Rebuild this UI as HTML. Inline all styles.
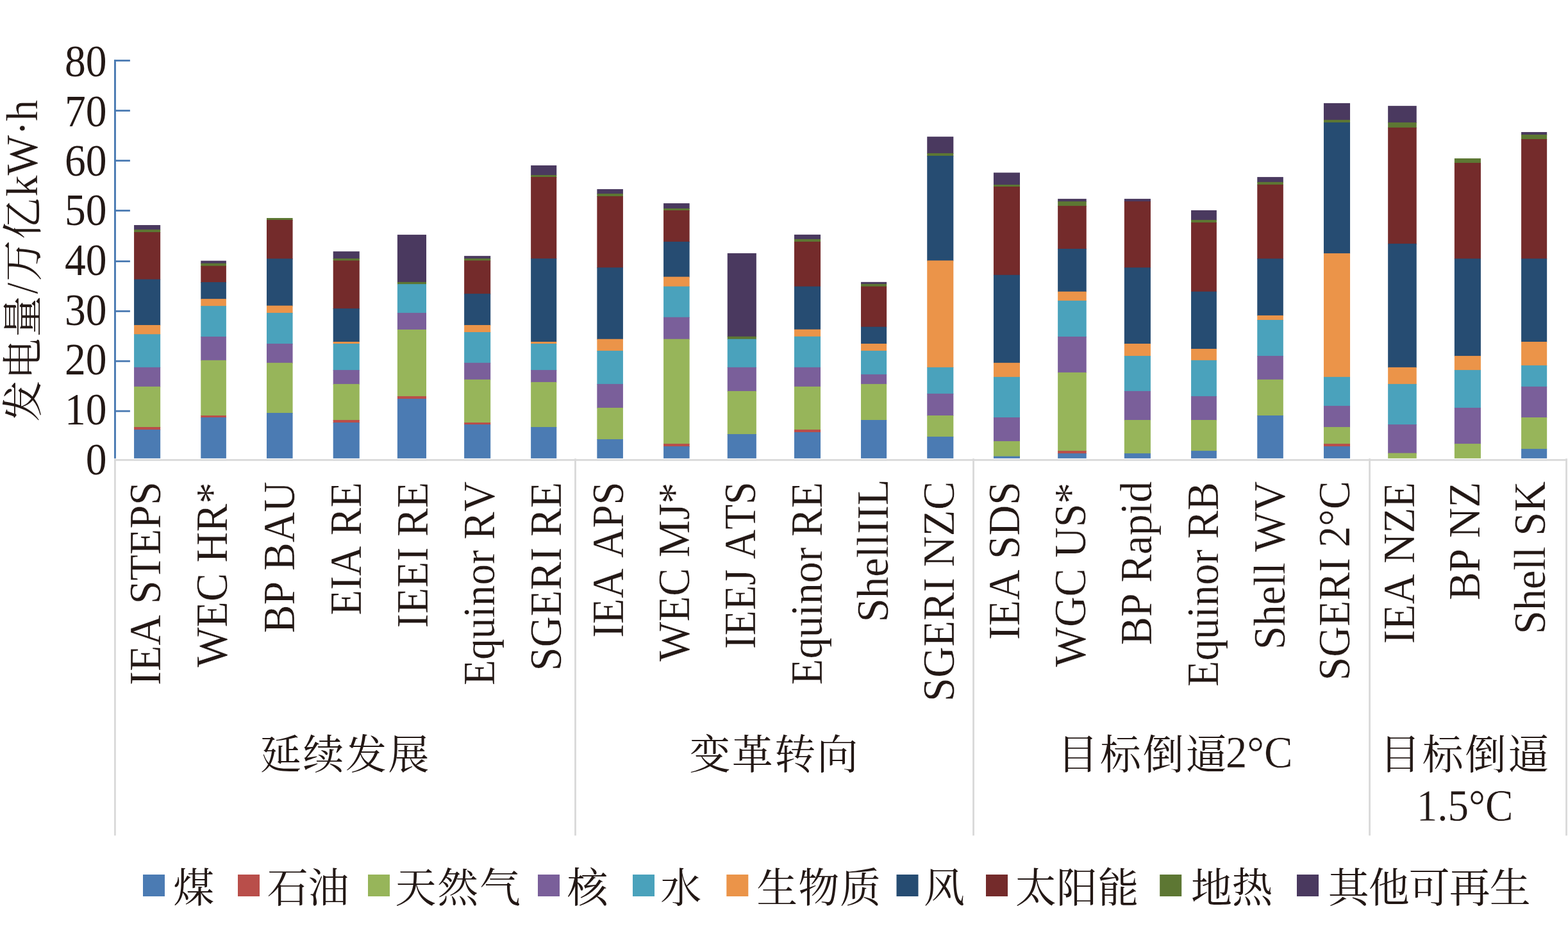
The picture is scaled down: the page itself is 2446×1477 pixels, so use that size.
<!DOCTYPE html>
<html><head><meta charset="utf-8"><title>chart</title><style>html,body{margin:0;padding:0;background:#fff;overflow:hidden}svg{display:block}</style></head><body>
<svg width="2446" height="1477" viewBox="0 0 2446 1477">
<rect width="2446" height="1477" fill="#fff"/>
<g fill="#d9d9d9">
<rect x="178" y="716.1" width="2266.9" height="2.7"/>
<rect x="178.0" y="715.2" width="2.8" height="588"/>
<rect x="896.1" y="715.2" width="2.8" height="588"/>
<rect x="1517.1" y="715.2" width="2.8" height="588"/>
<rect x="2135.2" y="715.2" width="2.8" height="588"/>
<rect x="2442.1" y="715.2" width="2.8" height="588"/>
</g>
<g fill="#4a7ab2">
<rect x="178" y="93.2" width="2.9" height="621.7"/>
<rect x="178" y="93.1" width="24.9" height="2.8"/>
<rect x="178" y="171.2" width="24.9" height="2.8"/>
<rect x="178" y="249.2" width="24.9" height="2.8"/>
<rect x="178" y="327.1" width="24.9" height="2.8"/>
<rect x="178" y="406.2" width="24.9" height="2.8"/>
<rect x="178" y="484.0" width="24.9" height="2.8"/>
<rect x="178" y="561.9" width="24.9" height="2.8"/>
<rect x="178" y="639.8" width="24.9" height="2.8"/>
</g>
<rect x="209.08" y="351.04" width="41.08" height="8.01" fill="#4a395f"/>
<rect x="209.08" y="358.06" width="41.08" height="5.01" fill="#5d7733"/>
<rect x="209.08" y="362.06" width="41.08" height="74.51" fill="#742b2b"/>
<rect x="209.08" y="435.57" width="41.08" height="72.39" fill="#264c72"/>
<rect x="209.08" y="506.96" width="41.08" height="15.28" fill="#eb9449"/>
<rect x="209.08" y="521.24" width="41.08" height="52.60" fill="#4aa2bc"/>
<rect x="209.08" y="572.85" width="41.08" height="31.06" fill="#7a5f9a"/>
<rect x="209.08" y="602.91" width="41.08" height="64.13" fill="#97b55a"/>
<rect x="209.08" y="666.03" width="41.08" height="5.01" fill="#b94e4a"/>
<rect x="209.08" y="670.04" width="41.08" height="44.86" fill="#4b7bb3"/>
<rect x="313.29" y="406.65" width="39.58" height="5.01" fill="#4a395f"/>
<rect x="313.29" y="410.66" width="39.58" height="5.01" fill="#5d7733"/>
<rect x="313.29" y="414.67" width="39.58" height="26.41" fill="#742b2b"/>
<rect x="313.29" y="440.08" width="39.58" height="27.05" fill="#264c72"/>
<rect x="313.29" y="466.13" width="39.58" height="12.02" fill="#eb9449"/>
<rect x="313.29" y="477.15" width="39.58" height="48.85" fill="#4aa2bc"/>
<rect x="313.29" y="525.00" width="39.58" height="37.82" fill="#7a5f9a"/>
<rect x="313.29" y="561.82" width="39.58" height="87.17" fill="#97b55a"/>
<rect x="313.29" y="648.00" width="39.58" height="4.01" fill="#b94e4a"/>
<rect x="313.29" y="651.00" width="39.58" height="63.90" fill="#4b7bb3"/>
<rect x="415.99" y="340.02" width="40.58" height="4.01" fill="#5d7733"/>
<rect x="415.99" y="343.03" width="40.58" height="61.37" fill="#742b2b"/>
<rect x="415.99" y="403.40" width="40.58" height="74.26" fill="#264c72"/>
<rect x="415.99" y="476.65" width="40.58" height="12.27" fill="#eb9449"/>
<rect x="415.99" y="487.93" width="40.58" height="49.10" fill="#4aa2bc"/>
<rect x="415.99" y="536.02" width="40.58" height="30.81" fill="#7a5f9a"/>
<rect x="415.99" y="565.83" width="40.58" height="79.16" fill="#97b55a"/>
<rect x="415.99" y="643.99" width="40.58" height="70.91" fill="#4b7bb3"/>
<rect x="519.70" y="392.12" width="41.08" height="12.02" fill="#4a395f"/>
<rect x="519.70" y="403.15" width="41.08" height="4.26" fill="#5d7733"/>
<rect x="519.70" y="406.40" width="41.08" height="75.76" fill="#742b2b"/>
<rect x="519.70" y="481.16" width="41.08" height="52.85" fill="#264c72"/>
<rect x="519.70" y="533.02" width="41.08" height="4.01" fill="#eb9449"/>
<rect x="519.70" y="536.02" width="41.08" height="42.08" fill="#4aa2bc"/>
<rect x="519.70" y="577.10" width="41.08" height="22.79" fill="#7a5f9a"/>
<rect x="519.70" y="598.90" width="41.08" height="57.11" fill="#97b55a"/>
<rect x="519.70" y="655.01" width="41.08" height="5.01" fill="#b94e4a"/>
<rect x="519.70" y="659.02" width="41.08" height="55.88" fill="#4b7bb3"/>
<rect x="619.90" y="366.07" width="45.09" height="74.76" fill="#4a395f"/>
<rect x="619.90" y="439.83" width="45.09" height="4.26" fill="#5d7733"/>
<rect x="619.90" y="443.09" width="45.09" height="45.84" fill="#4aa2bc"/>
<rect x="619.90" y="487.93" width="45.09" height="27.05" fill="#7a5f9a"/>
<rect x="619.90" y="513.98" width="45.09" height="104.96" fill="#97b55a"/>
<rect x="619.90" y="617.94" width="45.09" height="5.01" fill="#b94e4a"/>
<rect x="619.90" y="621.94" width="45.09" height="92.96" fill="#4b7bb3"/>
<rect x="724.11" y="399.14" width="41.08" height="5.01" fill="#4a395f"/>
<rect x="724.11" y="403.15" width="41.08" height="4.26" fill="#5d7733"/>
<rect x="724.11" y="406.40" width="41.08" height="52.71" fill="#742b2b"/>
<rect x="724.11" y="458.12" width="41.08" height="49.85" fill="#264c72"/>
<rect x="724.11" y="506.96" width="41.08" height="12.02" fill="#eb9449"/>
<rect x="724.11" y="517.99" width="41.08" height="48.85" fill="#4aa2bc"/>
<rect x="724.11" y="565.83" width="41.08" height="27.05" fill="#7a5f9a"/>
<rect x="724.11" y="591.88" width="41.08" height="68.13" fill="#97b55a"/>
<rect x="724.11" y="659.02" width="41.08" height="4.01" fill="#b94e4a"/>
<rect x="724.11" y="662.02" width="41.08" height="52.88" fill="#4b7bb3"/>
<rect x="828.14" y="257.95" width="40.08" height="16.03" fill="#4a395f"/>
<rect x="828.14" y="272.98" width="40.08" height="4.01" fill="#5d7733"/>
<rect x="828.14" y="275.98" width="40.08" height="128.25" fill="#742b2b"/>
<rect x="828.14" y="403.24" width="40.08" height="130.78" fill="#264c72"/>
<rect x="828.14" y="533.02" width="40.08" height="4.01" fill="#eb9449"/>
<rect x="828.14" y="536.02" width="40.08" height="42.08" fill="#4aa2bc"/>
<rect x="828.14" y="577.10" width="40.08" height="19.79" fill="#7a5f9a"/>
<rect x="828.14" y="595.89" width="40.08" height="71.14" fill="#97b55a"/>
<rect x="828.14" y="666.03" width="40.08" height="48.87" fill="#4b7bb3"/>
<rect x="931.34" y="295.02" width="40.58" height="8.01" fill="#4a395f"/>
<rect x="931.34" y="302.03" width="40.58" height="5.01" fill="#5d7733"/>
<rect x="931.34" y="306.04" width="40.58" height="112.22" fill="#742b2b"/>
<rect x="931.34" y="417.26" width="40.58" height="112.49" fill="#264c72"/>
<rect x="931.34" y="528.76" width="40.58" height="19.29" fill="#eb9449"/>
<rect x="931.34" y="547.04" width="40.58" height="52.85" fill="#4aa2bc"/>
<rect x="931.34" y="598.90" width="40.58" height="38.07" fill="#7a5f9a"/>
<rect x="931.34" y="635.97" width="40.58" height="50.10" fill="#97b55a"/>
<rect x="931.34" y="685.07" width="40.58" height="29.83" fill="#4b7bb3"/>
<rect x="1035.05" y="317.06" width="40.58" height="9.02" fill="#4a395f"/>
<rect x="1035.05" y="325.08" width="40.58" height="4.01" fill="#5d7733"/>
<rect x="1035.05" y="328.09" width="40.58" height="49.85" fill="#742b2b"/>
<rect x="1035.05" y="376.93" width="40.58" height="55.73" fill="#264c72"/>
<rect x="1035.05" y="431.66" width="40.58" height="16.03" fill="#eb9449"/>
<rect x="1035.05" y="446.69" width="40.58" height="49.00" fill="#4aa2bc"/>
<rect x="1035.05" y="494.69" width="40.58" height="35.07" fill="#7a5f9a"/>
<rect x="1035.05" y="528.76" width="40.58" height="164.33" fill="#97b55a"/>
<rect x="1035.05" y="692.08" width="40.58" height="5.01" fill="#b94e4a"/>
<rect x="1035.05" y="696.09" width="40.58" height="18.81" fill="#4b7bb3"/>
<rect x="1134.75" y="394.97" width="45.09" height="130.78" fill="#4a395f"/>
<rect x="1134.75" y="524.75" width="45.09" height="5.01" fill="#5d7733"/>
<rect x="1134.75" y="528.76" width="45.09" height="45.09" fill="#4aa2bc"/>
<rect x="1134.75" y="572.85" width="45.09" height="38.07" fill="#7a5f9a"/>
<rect x="1134.75" y="609.92" width="45.09" height="68.13" fill="#97b55a"/>
<rect x="1134.75" y="677.05" width="45.09" height="37.85" fill="#4b7bb3"/>
<rect x="1238.96" y="365.91" width="41.08" height="8.01" fill="#4a395f"/>
<rect x="1238.96" y="372.93" width="41.08" height="5.01" fill="#5d7733"/>
<rect x="1238.96" y="376.93" width="41.08" height="70.76" fill="#742b2b"/>
<rect x="1238.96" y="446.69" width="41.08" height="68.03" fill="#264c72"/>
<rect x="1238.96" y="513.73" width="41.08" height="12.02" fill="#eb9449"/>
<rect x="1238.96" y="524.75" width="41.08" height="49.10" fill="#4aa2bc"/>
<rect x="1238.96" y="572.85" width="41.08" height="31.06" fill="#7a5f9a"/>
<rect x="1238.96" y="602.91" width="41.08" height="68.13" fill="#97b55a"/>
<rect x="1238.96" y="670.04" width="41.08" height="5.01" fill="#b94e4a"/>
<rect x="1238.96" y="674.05" width="41.08" height="40.85" fill="#4b7bb3"/>
<rect x="1343.03" y="439.83" width="40.08" height="4.01" fill="#4a395f"/>
<rect x="1343.03" y="442.84" width="40.08" height="4.86" fill="#5d7733"/>
<rect x="1343.03" y="446.69" width="40.08" height="64.03" fill="#742b2b"/>
<rect x="1343.03" y="509.72" width="40.08" height="27.30" fill="#264c72"/>
<rect x="1343.03" y="536.02" width="40.08" height="12.02" fill="#eb9449"/>
<rect x="1343.03" y="547.04" width="40.08" height="37.82" fill="#4aa2bc"/>
<rect x="1343.03" y="583.87" width="40.08" height="16.03" fill="#7a5f9a"/>
<rect x="1343.03" y="598.90" width="40.08" height="57.11" fill="#97b55a"/>
<rect x="1343.03" y="655.01" width="40.08" height="59.89" fill="#4b7bb3"/>
<rect x="1446.23" y="213.15" width="41.08" height="26.80" fill="#4a395f"/>
<rect x="1446.23" y="238.95" width="41.08" height="5.01" fill="#5d7733"/>
<rect x="1446.23" y="242.96" width="41.08" height="164.33" fill="#264c72"/>
<rect x="1446.23" y="406.28" width="41.08" height="167.56" fill="#eb9449"/>
<rect x="1446.23" y="572.85" width="41.08" height="42.08" fill="#4aa2bc"/>
<rect x="1446.23" y="613.93" width="41.08" height="35.07" fill="#7a5f9a"/>
<rect x="1446.23" y="648.00" width="41.08" height="34.07" fill="#97b55a"/>
<rect x="1446.23" y="681.06" width="41.08" height="33.84" fill="#4b7bb3"/>
<rect x="1549.94" y="269.26" width="41.08" height="19.79" fill="#4a395f"/>
<rect x="1549.94" y="288.05" width="41.08" height="4.01" fill="#5d7733"/>
<rect x="1549.94" y="291.05" width="41.08" height="138.76" fill="#742b2b"/>
<rect x="1549.94" y="428.81" width="41.08" height="138.02" fill="#264c72"/>
<rect x="1549.94" y="565.83" width="41.08" height="23.04" fill="#eb9449"/>
<rect x="1549.94" y="587.88" width="41.08" height="64.13" fill="#4aa2bc"/>
<rect x="1549.94" y="651.00" width="41.08" height="38.07" fill="#7a5f9a"/>
<rect x="1549.94" y="688.08" width="41.08" height="24.55" fill="#97b55a"/>
<rect x="1549.94" y="711.62" width="41.08" height="3.28" fill="#4b7bb3"/>
<rect x="1650.14" y="310.09" width="44.59" height="5.01" fill="#4a395f"/>
<rect x="1650.14" y="314.10" width="44.59" height="8.01" fill="#5d7733"/>
<rect x="1650.14" y="321.11" width="44.59" height="67.88" fill="#742b2b"/>
<rect x="1650.14" y="388.00" width="44.59" height="67.71" fill="#264c72"/>
<rect x="1650.14" y="454.71" width="44.59" height="15.18" fill="#eb9449"/>
<rect x="1650.14" y="468.89" width="44.59" height="57.11" fill="#4aa2bc"/>
<rect x="1650.14" y="525.00" width="44.59" height="56.86" fill="#7a5f9a"/>
<rect x="1650.14" y="580.86" width="44.59" height="123.24" fill="#97b55a"/>
<rect x="1650.14" y="703.11" width="44.59" height="5.01" fill="#b94e4a"/>
<rect x="1650.14" y="707.11" width="44.59" height="7.79" fill="#4b7bb3"/>
<rect x="1753.85" y="310.09" width="41.08" height="5.01" fill="#4a395f"/>
<rect x="1753.85" y="314.10" width="41.08" height="104.21" fill="#742b2b"/>
<rect x="1753.85" y="417.30" width="41.08" height="119.72" fill="#264c72"/>
<rect x="1753.85" y="536.02" width="41.08" height="20.04" fill="#eb9449"/>
<rect x="1753.85" y="555.06" width="41.08" height="55.86" fill="#4aa2bc"/>
<rect x="1753.85" y="609.92" width="41.08" height="46.09" fill="#7a5f9a"/>
<rect x="1753.85" y="655.01" width="41.08" height="53.10" fill="#97b55a"/>
<rect x="1753.85" y="707.11" width="41.08" height="7.79" fill="#4b7bb3"/>
<rect x="1858.05" y="327.96" width="39.83" height="16.03" fill="#4a395f"/>
<rect x="1858.05" y="342.99" width="39.83" height="5.01" fill="#5d7733"/>
<rect x="1858.05" y="346.99" width="39.83" height="108.72" fill="#742b2b"/>
<rect x="1858.05" y="454.71" width="39.83" height="90.33" fill="#264c72"/>
<rect x="1858.05" y="544.04" width="39.83" height="18.79" fill="#eb9449"/>
<rect x="1858.05" y="561.82" width="39.83" height="57.11" fill="#4aa2bc"/>
<rect x="1858.05" y="617.94" width="39.83" height="38.07" fill="#7a5f9a"/>
<rect x="1858.05" y="655.01" width="39.83" height="49.10" fill="#97b55a"/>
<rect x="1858.05" y="703.11" width="39.83" height="11.79" fill="#4b7bb3"/>
<rect x="1961.25" y="276.10" width="40.58" height="8.77" fill="#4a395f"/>
<rect x="1961.25" y="283.87" width="40.58" height="5.01" fill="#5d7733"/>
<rect x="1961.25" y="287.88" width="40.58" height="116.48" fill="#742b2b"/>
<rect x="1961.25" y="403.36" width="40.58" height="89.58" fill="#264c72"/>
<rect x="1961.25" y="491.93" width="40.58" height="8.01" fill="#eb9449"/>
<rect x="1961.25" y="498.95" width="40.58" height="57.11" fill="#4aa2bc"/>
<rect x="1961.25" y="555.06" width="40.58" height="37.82" fill="#7a5f9a"/>
<rect x="1961.25" y="591.88" width="40.58" height="57.11" fill="#97b55a"/>
<rect x="1961.25" y="648.00" width="40.58" height="66.90" fill="#4b7bb3"/>
<rect x="2064.96" y="160.87" width="41.08" height="27.05" fill="#4a395f"/>
<rect x="2064.96" y="186.92" width="41.08" height="5.01" fill="#5d7733"/>
<rect x="2064.96" y="190.93" width="41.08" height="205.16" fill="#264c72"/>
<rect x="2064.96" y="395.09" width="41.08" height="193.79" fill="#eb9449"/>
<rect x="2064.96" y="587.88" width="41.08" height="46.09" fill="#4aa2bc"/>
<rect x="2064.96" y="632.97" width="41.08" height="34.07" fill="#7a5f9a"/>
<rect x="2064.96" y="666.03" width="41.08" height="27.05" fill="#97b55a"/>
<rect x="2064.96" y="692.08" width="41.08" height="5.01" fill="#b94e4a"/>
<rect x="2064.96" y="696.09" width="41.08" height="18.81" fill="#4b7bb3"/>
<rect x="2165.16" y="165.13" width="44.59" height="26.80" fill="#4a395f"/>
<rect x="2165.16" y="190.93" width="44.59" height="9.02" fill="#5d7733"/>
<rect x="2165.16" y="198.95" width="44.59" height="182.11" fill="#742b2b"/>
<rect x="2165.16" y="380.06" width="44.59" height="193.79" fill="#264c72"/>
<rect x="2165.16" y="572.85" width="44.59" height="27.05" fill="#eb9449"/>
<rect x="2165.16" y="598.90" width="44.59" height="64.13" fill="#4aa2bc"/>
<rect x="2165.16" y="662.02" width="44.59" height="45.59" fill="#7a5f9a"/>
<rect x="2165.16" y="706.61" width="44.59" height="8.29" fill="#97b55a"/>
<rect x="2268.87" y="247.04" width="41.08" height="8.01" fill="#5d7733"/>
<rect x="2268.87" y="254.06" width="41.08" height="150.30" fill="#742b2b"/>
<rect x="2268.87" y="403.36" width="41.08" height="152.70" fill="#264c72"/>
<rect x="2268.87" y="555.06" width="41.08" height="23.04" fill="#eb9449"/>
<rect x="2268.87" y="577.10" width="41.08" height="59.87" fill="#4aa2bc"/>
<rect x="2268.87" y="635.97" width="41.08" height="57.11" fill="#7a5f9a"/>
<rect x="2268.87" y="692.08" width="41.08" height="22.82" fill="#97b55a"/>
<rect x="2373.08" y="205.96" width="40.08" height="5.01" fill="#4a395f"/>
<rect x="2373.08" y="209.97" width="40.08" height="8.01" fill="#5d7733"/>
<rect x="2373.08" y="216.98" width="40.08" height="187.37" fill="#742b2b"/>
<rect x="2373.08" y="403.36" width="40.08" height="130.66" fill="#264c72"/>
<rect x="2373.08" y="533.02" width="40.08" height="37.82" fill="#eb9449"/>
<rect x="2373.08" y="569.84" width="40.08" height="34.07" fill="#4aa2bc"/>
<rect x="2373.08" y="602.91" width="40.08" height="49.10" fill="#7a5f9a"/>
<rect x="2373.08" y="651.00" width="40.08" height="50.10" fill="#97b55a"/>
<rect x="2373.08" y="700.10" width="40.08" height="14.80" fill="#4b7bb3"/>
<g font-family="Liberation Serif, serif" fill="#231815" font-size="69.3" stroke="#fff" stroke-width="0.3" style="font-kerning:none">
<text transform="translate(250,1069.1) rotate(-90) scale(0.9546,1)">IEA STEPS</text>
<text transform="translate(353.5,1040.8) rotate(-90) scale(0.9542,1)">WEC HR*</text>
<text transform="translate(458.7,987.6) rotate(-90) scale(0.9527,1)">BP BAU</text>
<text transform="translate(563,959.8) rotate(-90) scale(0.9385,1)">EIA RE</text>
<text transform="translate(666.9,979.5) rotate(-90) scale(0.9620,1)">IEEI RE</text>
<text transform="translate(770.7,1069.0) rotate(-90) scale(0.9451,1)">Equinor RV</text>
<text transform="translate(874.9,1046.6) rotate(-90) scale(0.9635,1)">SGERI RE</text>
<text transform="translate(972.1,994.5) rotate(-90) scale(0.9357,1)">IEA APS</text>
<text transform="translate(1075,1031.8) rotate(-90) scale(0.9483,1)">WEC MJ*</text>
<text transform="translate(1178,1012.2) rotate(-90) scale(0.9227,1)">IEEJ ATS</text>
<text transform="translate(1281.8,1068.2) rotate(-90) scale(0.9610,1)">Equinor RE</text>
<text transform="translate(1385.4,970.6) rotate(-90) scale(0.9676,1)">ShellIIL</text>
<text transform="translate(1488.3,1094.3) rotate(-90) scale(0.9650,1)">SGERI NZC</text>
<text transform="translate(1589.6,998.1) rotate(-90) scale(0.9499,1)">IEA SDS</text>
<text transform="translate(1692.9,1040.3) rotate(-90) scale(0.9518,1)">WGC US*</text>
<text transform="translate(1795.9,1006.3) rotate(-90) scale(0.9553,1)">BP Rapid</text>
<text transform="translate(1900,1071.0) rotate(-90) scale(0.9583,1)">Equinor RB</text>
<text transform="translate(2004,1013.2) rotate(-90) scale(0.9543,1)">Shell WV</text>
<text transform="translate(2105.2,1061.5) rotate(-90) scale(0.9552,1)">SGERI 2°C</text>
<text transform="translate(2206,1004.3) rotate(-90) scale(0.9434,1)">IEA NZE</text>
<text transform="translate(2308.4,936.3) rotate(-90) scale(0.9502,1)">BP NZ</text>
<text transform="translate(2409.8,989.3) rotate(-90) scale(0.9608,1)">Shell SK</text>
<text transform="translate(166.6,119.1) scale(0.93,1)" text-anchor="end" font-size="70.5" stroke="none">80</text>
<text transform="translate(166.6,196.5) scale(0.93,1)" text-anchor="end" font-size="70.5" stroke="none">70</text>
<text transform="translate(166.6,274) scale(0.93,1)" text-anchor="end" font-size="70.5" stroke="none">60</text>
<text transform="translate(166.6,351.4) scale(0.93,1)" text-anchor="end" font-size="70.5" stroke="none">50</text>
<text transform="translate(166.6,428.5) scale(0.93,1)" text-anchor="end" font-size="70.5" stroke="none">40</text>
<text transform="translate(166.6,506.9) scale(0.93,1)" text-anchor="end" font-size="70.5" stroke="none">30</text>
<text transform="translate(166.6,584.4) scale(0.93,1)" text-anchor="end" font-size="70.5" stroke="none">20</text>
<text transform="translate(166.6,661.6) scale(0.93,1)" text-anchor="end" font-size="70.5" stroke="none">10</text>
<text transform="translate(166.6,739.9) scale(0.93,1)" text-anchor="end" font-size="70.5" stroke="none">0</text>
<text transform="translate(58.2,458.5) rotate(-90) scale(0.9183,1)">/</text>
<text transform="translate(58.2,306.8) rotate(-90) scale(0.9577,1)">kW·h</text>
<text transform="translate(1912.0,1197) scale(0.9633,1)">2°C</text>
<text transform="translate(2209.7,1280) scale(0.9396,1)">1.5°C</text>
</g>
<g fill="#231815" font-family="'Liberation Serif', 'Noto Serif CJK SC', serif" font-size="64">
<text x="406.1" y="1198.5" textLength="263.5">延续发展</text>
<text x="1075.5" y="1198.5" textLength="263">变革转向</text>
<text x="1649.2" y="1198.5" textLength="264.4">目标倒逼</text>
<text x="2152" y="1198.5" textLength="264.3">目标倒逼</text>
<text x="270.2" y="1406.8">煤</text>
<text x="416.8" y="1406.8" textLength="127.7">石油</text>
<text x="616.4" y="1406.8" textLength="195.5">天然气</text>
<text x="884.4" y="1406.8">核</text>
<text x="1030.2" y="1406.8">水</text>
<text x="1180.2" y="1406.8" textLength="194">生物质</text>
<text x="1440.9" y="1406.8">风</text>
<text x="1583.7" y="1406.8" textLength="192.7">太阳能</text>
<text x="1858.1" y="1406.8" textLength="127.5">地热</text>
<text x="2071.7" y="1406.8" textLength="316">其他可再生</text>
<text transform="translate(58.4,657.5) rotate(-90)" textLength="196">发电量</text>
<text transform="translate(58.4,438.8) rotate(-90)" textLength="129.9">万亿</text>
</g>
<rect x="223" y="1364" width="34" height="34" fill="#4b7bb3"/>
<rect x="371" y="1364" width="34" height="34" fill="#b94e4a"/>
<rect x="574" y="1364" width="34" height="34" fill="#97b55a"/>
<rect x="839" y="1364" width="34" height="34" fill="#7a5f9a"/>
<rect x="987" y="1364" width="34" height="34" fill="#4aa2bc"/>
<rect x="1133.3" y="1364" width="34" height="34" fill="#eb9449"/>
<rect x="1398.5" y="1364" width="34" height="34" fill="#264c72"/>
<rect x="1538" y="1364" width="34" height="34" fill="#742b2b"/>
<rect x="1809.2" y="1364" width="34" height="34" fill="#5d7733"/>
<rect x="2023" y="1364" width="34" height="34" fill="#4a395f"/>
</svg>
</body></html>
